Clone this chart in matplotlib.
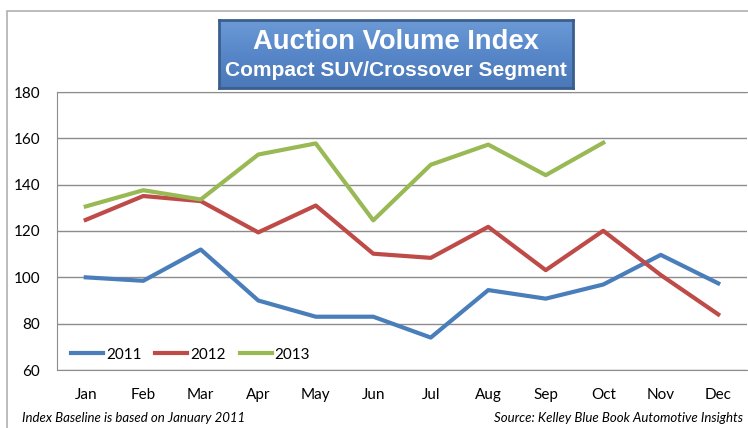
import numpy as np
import matplotlib.pyplot as plt
from matplotlib.patches import Rectangle
from matplotlib.colors import LinearSegmentedColormap

# data
months = ['Jan', 'Feb', 'Mar', 'Apr', 'May', 'Jun', 'Jul', 'Aug', 'Sep', 'Oct', 'Nov', 'Dec']
v2011 = [100, 98.5, 112, 90, 83, 83, 74, 94.5, 90.8, 96.9, 109.7, 97.4]
v2012 = [124.8, 135.1, 132.9, 119.4, 131, 110.2, 108.4, 121.8, 103.1, 120.1, 101, 84]
v2013 = [130.6, 137.6, 133.6, 153, 157.8, 124.6, 148.6, 157.3, 144.1, 158.1]
yticks = [60, 80, 100, 120, 140, 160, 180]

W, H = 748, 428
fig = plt.figure(figsize=(W / 100, H / 100), dpi=100)
plt.rcParams['font.family'] = ['Lato', 'DejaVu Sans']

# outer chart frame
fig.add_artist(Rectangle((7 / W, -0.05), 1.0, 1 - 11 / H + 0.05, transform=fig.transFigure,
                         fill=False, edgecolor='#b0b0b0', lw=1.2))

ax = fig.add_axes([57 / W, 1 - 370 / H, 690 / W, 278 / H])
x = np.arange(len(months))
ax.plot(x, v2011, color='#4a7ebb', lw=3, label='2011')
ax.plot(x[:len(v2012)], v2012, color='#be4b48', lw=3, label='2012')
ax.plot(x[:len(v2013)], v2013, color='#98b954', lw=3, label='2013')

ax.set_xlim(-0.5, 11.5)
ax.set_ylim(60, 180)
ax.set_yticks(yticks)
ax.set_xticks(x)
ax.set_xticklabels(months)
ax.grid(axis='y', color='#8c8c8c', lw=1)
ax.set_axisbelow(True)
for s in ['left', 'top', 'bottom']:
    ax.spines[s].set_color('#8c8c8c')
ax.spines['right'].set_visible(False)
ax.tick_params(length=0, labelsize=11, colors='black')
ax.tick_params(axis='x', pad=13)
ax.tick_params(axis='y', pad=12)

ax.legend(loc='lower left', bbox_to_anchor=(0.0, -0.02), ncol=3, frameon=False,
          fontsize=11, handlelength=2.1, handletextpad=0.2, columnspacing=0.9)

# title box with vertical gradient
tax = fig.add_axes([219 / W, 1 - 88 / H, 354 / W, 68 / H])
grad = np.linspace(0, 1, 100).reshape(-1, 1)
cmap = LinearSegmentedColormap.from_list('tb', ['#6b9ad6', '#5887c9', '#4a78b8'])
tax.imshow(grad, aspect='auto', cmap=cmap, extent=[0, 1, 0, 1])
for s in tax.spines.values():
    s.set_color('#3a5f8f')
    s.set_linewidth(2)
tax.set_xticks([])
tax.set_yticks([])
tax.text(0.5, 0.68, 'Auction Volume Index', color='white', fontsize=19.7, fontweight='bold',
         ha='center', va='center', family='Liberation Sans', transform=tax.transAxes)
tax.text(0.5, 0.26, 'Compact SUV/Crossover Segment', color='white', fontsize=15, fontweight='bold',
         ha='center', va='center', family='Liberation Sans', transform=tax.transAxes)

fig.text(22 / W, 1 - 418 / H, 'Index Baseline is based on January 2011', style='italic',
         fontsize=9.5, va='center')
fig.text(743 / W, 1 - 418 / H, 'Source: Kelley Blue Book Automotive Insights', style='italic',
         fontsize=9.5, va='center', ha='right')

fig.savefig('out.png', dpi=100)
